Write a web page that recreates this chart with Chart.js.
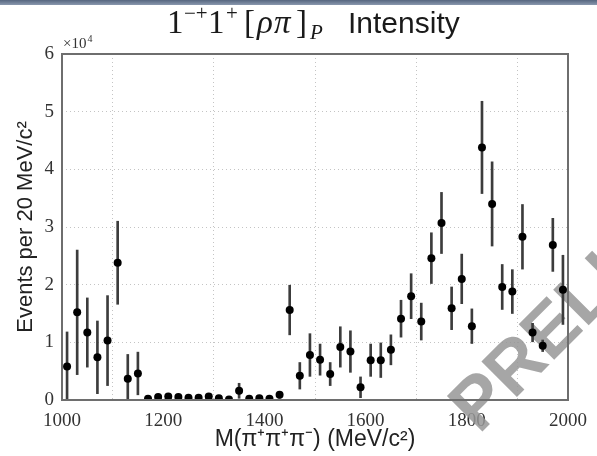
<!DOCTYPE html>
<html><head><meta charset="utf-8">
<script src="https://cdn.jsdelivr.net/npm/chart.js@4.4.0/dist/chart.umd.min.js"></script>
<style>
html,body{margin:0;padding:0;background:#fff;}
#wrap{position:relative;width:597px;height:456px;overflow:hidden;background:#fff;}
#strip{position:absolute;left:0;top:0;width:597px;height:5px;background:linear-gradient(#56667f,#8a98ae);z-index:2;}
canvas{position:absolute;left:0;top:0;}
</style></head><body>
<div id="wrap"><div id="strip"></div><canvas id="c" width="597" height="456"></canvas></div>
<script>
// bin centres, MeV/c^2
const massBins = [1010,1030,1050,1070,1090,1110,1130,1150,1170,1190,
                  1210,1230,1250,1270,1290,1310,1330,1350,1370,1390,
                  1410,1430,1450,1470,1490,1510,1530,1550,1570,1590,
                  1610,1630,1650,1670,1690,1710,1730,1750,1770,1790,
                  1810,1830,1850,1870,1890,1910,1930,1950,1970,1990];
// intensity, units of 1e4 events per 20 MeV/c^2
const intensity = [0.58,1.52,1.17,0.74,1.03,2.38,0.37,0.46,0.02,0.05,
                   0.06,0.05,0.04,0.04,0.06,0.03,0.01,0.16,0.02,0.03,
                   0.02,0.09,1.56,0.42,0.78,0.70,0.45,0.92,0.84,0.22,
                   0.69,0.69,0.87,1.41,1.80,1.36,2.46,3.07,1.59,2.10,
                   1.28,4.38,3.40,1.96,1.88,2.83,1.17,0.94,2.69,1.91];
// symmetric errors, same units
const errors = [0.60,1.08,0.60,0.63,0.78,0.72,0.42,0.37,0.02,0.03,
                0.03,0.03,0.02,0.02,0.03,0.02,0.01,0.13,0.02,0.02,
                0.02,0.06,0.43,0.23,0.37,0.27,0.20,0.35,0.36,0.18,
                0.28,0.30,0.26,0.32,0.39,0.32,0.44,0.53,0.37,0.43,
                0.30,0.80,0.73,0.39,0.38,0.56,0.16,0.10,0.46,0.60];
const xTicks = [1000,1200,1400,1600,1800,2000];
const yTicks = [0,1,2,3,4,5,6];

const SERIF = '"Liberation Serif", "DejaVu Serif", serif';
const SANS = '"Liberation Sans", Arial, sans-serif';

const errData = massBins.map((m,i)=>({x:m, y:[Math.max(0,intensity[i]-errors[i]), intensity[i]+errors[i]]}));
const ptData = massBins.map((m,i)=>({x:m, y:intensity[i]}));

const framePlugin = {
  id:'frame',
  beforeDatasetsDraw(chart){
    const ctx = chart.ctx;
    ctx.save();
    ctx.translate(479, 435);
    ctx.rotate(-Math.PI/4);
    ctx.font = 'bold 73px ' + SANS;
    ctx.fillStyle = 'rgba(150,150,150,0.85)';
    ctx.textBaseline = 'alphabetic';
    ctx.fillText('PRELIMINARY', 0, 0);
    ctx.restore();
  },
  afterDatasetsDraw(chart){
    const {ctx, chartArea:a} = chart;
    ctx.save();
    ctx.strokeStyle = '#6e6e6e';
    ctx.lineWidth = 2;
    ctx.strokeRect(a.left, a.top, a.right-a.left, a.bottom-a.top);
    ctx.restore();
  },
  afterDraw(chart){
    const ctx = chart.ctx;
    ctx.save();
    ctx.fillStyle = '#1a1a1a';
    ctx.textBaseline = 'alphabetic';
    const pieces = [
      {t:'1', f:'33px '+SERIF, x:167, dy:0},
      {t:'\u2212+', f:'21px '+SERIF, x:184, dy:-13},
      {t:'1', f:'33px '+SERIF, x:208, dy:0},
      {t:'+', f:'21px '+SERIF, x:226, dy:-13},
      {t:'[', f:'33px '+SERIF, x:244, dy:0},
      {t:'\u03C1', f:'italic 33px '+SERIF, x:257, dy:0},
      {t:'\u03C0', f:'italic 33px '+SERIF, x:274, dy:0},
      {t:']', f:'33px '+SERIF, x:296, dy:0},
      {t:'P', f:'italic 21px '+SERIF, x:310, dy:6},
      {t:'Intensity', f:'30px '+SANS, x:348, dy:0}
    ];
    pieces.forEach(p=>{ctx.font=p.f; ctx.fillText(p.t, p.x, 33+p.dy);});
    // x10^4 multiplier
    ctx.fillStyle = '#333';
    ctx.font = '15px '+SERIF;
    ctx.fillText('\u00D710', 63, 48);
    const w = ctx.measureText('\u00D710').width;
    ctx.font = '10px '+SERIF;
    ctx.fillText('4', 63+w+1, 42);
    ctx.restore();
  }
};

new Chart(document.getElementById('c'), {
  type: 'scatter',
  data: {
    datasets: [
      {type:'bar', data: errData, backgroundColor:'#3c3c3c', borderWidth:0, barThickness:2, grouped:false, order:2},
      {type:'scatter', data: ptData, backgroundColor:'#000', borderWidth:0, pointRadius:4, pointHoverRadius:4, order:1,
       clip:{left:6,right:6,top:6,bottom:0}}
    ]
  },
  options: {
    responsive:false,
    animation:false,
    devicePixelRatio:1,
    layout:{padding:{top:54,right:21,left:0,bottom:0}},
    plugins:{legend:{display:false}, tooltip:{enabled:false}},
    scales:{
      x:{type:'linear', min:1000, max:2000, offset:false,
        afterBuildTicks:s=>{s.ticks = xTicks.map(v=>({value:v}));},
        afterFit:s=>{s.height = 56;},
        grid:{color:'#c4c4c4', lineWidth:1, drawTicks:false},
        border:{display:false, dash:[1,3]},
        ticks:{font:{family:SERIF,size:19}, color:'#333', padding:10, maxRotation:0, autoSkip:false,
               callback:v=>String(v)},
        title:{display:true, text:'M(\u03C0\u207A\u03C0\u207A\u03C0\u207B) (MeV/c\u00B2)', font:{family:SANS,size:23}, color:'#222', padding:{top:0,bottom:3}}
      },
      y:{type:'linear', min:0, max:6,
        afterBuildTicks:s=>{s.ticks = yTicks.map(v=>({value:v}));},
        afterFit:s=>{s.width = 62;},
        grid:{color:'#c4c4c4', lineWidth:1, drawTicks:false},
        border:{display:false, dash:[1,3]},
        ticks:{font:{family:SERIF,size:19}, color:'#333', padding:8, autoSkip:false, callback:v=>String(v)},
        title:{display:true, text:'Events per 20 MeV/c\u00B2', font:{family:SANS,size:22}, color:'#222', padding:{top:13,bottom:0}}
      }
    }
  },
  plugins:[framePlugin]
});
</script>
</body></html>
